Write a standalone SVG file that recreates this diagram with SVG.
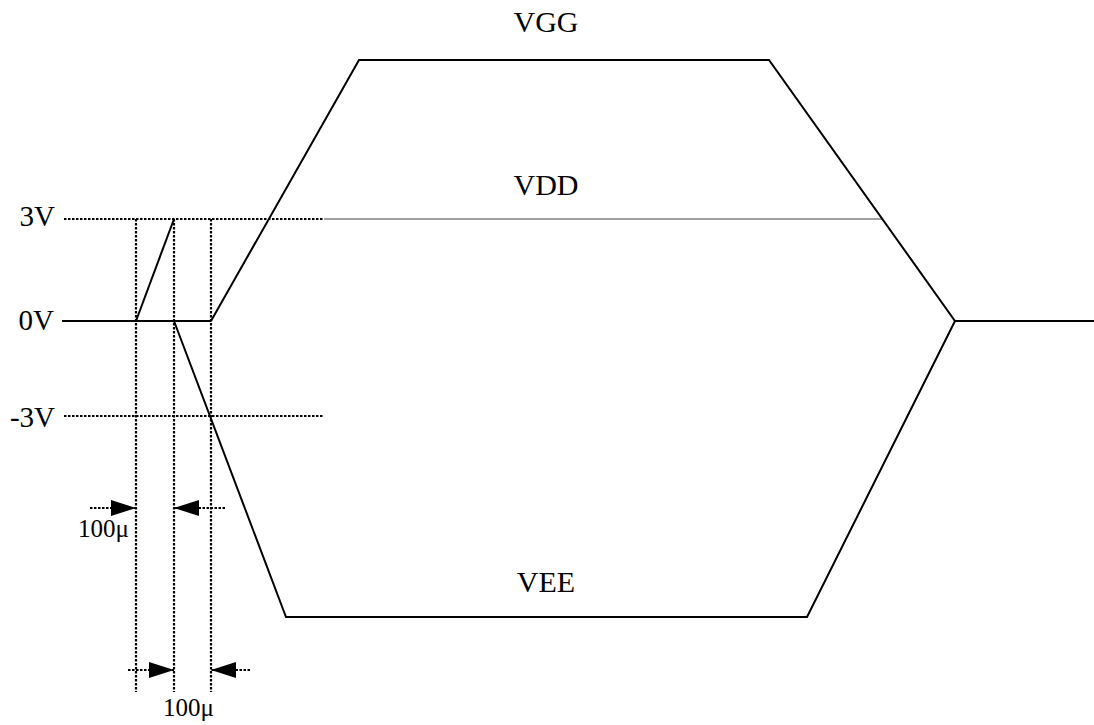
<svg xmlns="http://www.w3.org/2000/svg" width="1094" height="725" viewBox="0 0 1094 725">
<style>
text{font-family:"Liberation Serif","Times New Roman",serif;fill:#000}
.lab{font-size:30px}
.axis{font-size:29px}
.small{font-size:25px}
.dot{stroke:#000;stroke-width:2.2;stroke-dasharray:2.5 1.5;fill:none}
.sig{stroke:#000;stroke-width:2;fill:none}
.vdd{stroke:#808080;stroke-width:1.5;fill:none}
</style>
<defs>
<marker id="ah" viewBox="0 0 25 16" refX="25" refY="8" markerWidth="25" markerHeight="16" markerUnits="userSpaceOnUse" orient="auto">
<path d="M0,0 L25,8 L0,16 Z" fill="#000"/>
</marker>
</defs>
<rect width="1094" height="725" fill="#fff"/>
<g id="guides">
<line class="dot" x1="64" y1="219" x2="324" y2="219"/>
<line class="dot" x1="64" y1="416" x2="324" y2="416"/>
<line class="dot" x1="136" y1="219" x2="136" y2="692"/>
<line class="dot" x1="174" y1="219" x2="174" y2="692"/>
<line class="dot" x1="211" y1="219" x2="211" y2="692"/>
</g>
<g id="signals">
<line class="vdd" x1="324" y1="219" x2="882" y2="219"/>
<line class="sig" x1="62" y1="321" x2="211" y2="321"/>
<polyline class="sig" points="136,321 174,219"/>
<polyline class="sig" points="174,321 286,617 807,617 955,321"/>
<polyline class="sig" points="211,321 359,60 769,60 955,321 1094,321"/>
</g>
<g id="dimensions">
<line class="dot" x1="90" y1="508" x2="136" y2="508" marker-end="url(#ah)"/>
<line class="dot" x1="225" y1="508" x2="174" y2="508" marker-end="url(#ah)"/>
<line class="dot" x1="128" y1="670" x2="174" y2="670" marker-end="url(#ah)"/>
<line class="dot" x1="250" y1="670" x2="211" y2="670" marker-end="url(#ah)"/>
</g>
<g id="labels">
<text class="axis" x="55" y="226" text-anchor="end">3V</text>
<text class="axis" x="54" y="330" text-anchor="end">0V</text>
<text class="axis" x="55" y="427" text-anchor="end">-3V</text>
<text class="lab" x="546" y="32" text-anchor="middle">VGG</text>
<text class="lab" x="546" y="195" text-anchor="middle">VDD</text>
<text class="lab" x="546" y="592" text-anchor="middle">VEE</text>
<text class="small" x="78" y="537">100μ</text>
<text class="small" x="163" y="716">100μ</text>
</g>
</svg>
